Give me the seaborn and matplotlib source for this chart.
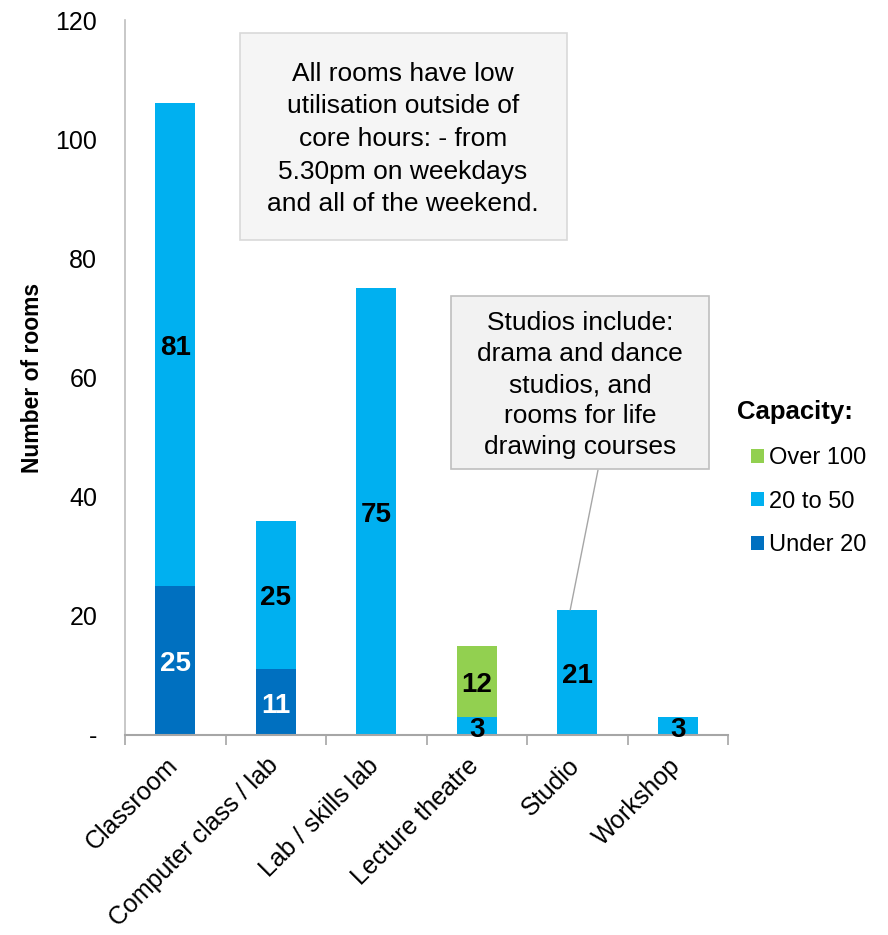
import matplotlib
matplotlib.use("Agg")
import matplotlib.pyplot as plt
from matplotlib.patches import Patch, Rectangle
from matplotlib.transforms import ScaledTranslation
import numpy as np
import pandas as pd
import seaborn as sns

# Room counts by type and capacity band
room_types = ["Classroom", "Computer class / lab", "Lab / skills lab",
              "Lecture theatre", "Studio", "Workshop"]
under_20 = [25, 11, 0, 0, 0, 0]
from_20_to_50 = [81, 25, 75, 3, 21, 3]
over_100 = [0, 0, 0, 12, 0, 0]

y_ticks = [0, 20, 40, 60, 80, 100, 120]
y_tick_labels = ["-", "20", "40", "60", "80", "100", "120"]

colors = {"Over 100": "#92D050", "20 to 50": "#00B0F0", "Under 20": "#0070C0"}

df = pd.DataFrame({
    "room": room_types,
    "Under 20": under_20,
    "20 to 50": from_20_to_50,
    "Over 100": over_100,
})
df["cum_under"] = df["Under 20"]
df["cum_mid"] = df["cum_under"] + df["20 to 50"]
df["cum_top"] = df["cum_mid"] + df["Over 100"]

sns.set_theme(style="white")
plt.rcParams["font.family"] = ["Liberation Sans", "DejaVu Sans"]
for key in ["text.color", "axes.labelcolor", "xtick.color", "ytick.color"]:
    plt.rcParams[key] = "black"

fig = plt.figure(figsize=(8.88, 9.35), dpi=100)
ax = fig.add_axes([125 / 888, 1 - 735 / 935, 603 / 888, 715 / 935])

# Stacked bars drawn as overlapping cumulative totals
for col, key in [("cum_top", "Over 100"), ("cum_mid", "20 to 50"), ("cum_under", "Under 20")]:
    sns.barplot(data=df, x="room", y=col, color=colors[key], width=0.4,
                saturation=1, ax=ax, order=room_types, linewidth=0)

# Segment value labels
for i, row in df.iterrows():
    segs = [("Under 20", 0, row["Under 20"], "white"),
            ("20 to 50", row["cum_under"], row["20 to 50"], "black"),
            ("Over 100", row["cum_mid"], row["Over 100"], "black")]
    for name, base, val, tc in segs:
        if val > 0:
            ax.annotate(f"{val}", xy=(i, base + val / 2), xytext=(0, -2.5),
                        textcoords="offset points", ha="center", va="center",
                        fontsize=20, fontweight="bold", color=tc)

ax.set_ylim(0, 120)
ax.set_xlim(-0.5, len(room_types) - 0.5)
ax.set_yticks(y_ticks)
ax.set_yticklabels(y_tick_labels, fontsize=18)
ax.tick_params(axis="y", length=0, pad=20)

ax.set_xticks(range(len(room_types)))
ax.set_xticklabels(room_types, rotation=45, ha="right", rotation_mode="anchor",
                   fontsize=18)
ax.tick_params(axis="x", which="major", length=0, pad=14)
shift = ScaledTranslation(-10 / 100, 1 / 100, fig.dpi_scale_trans)
for lbl in ax.get_xticklabels():
    lbl.set_transform(lbl.get_transform() + shift)
ax.set_xticks(np.arange(-0.5, len(room_types), 1.0), minor=True)
ax.tick_params(axis="x", which="minor", length=7, width=1.2, color="#a6a6a6",
               direction="out", bottom=True)

ax.set_xlabel("")
ax.set_ylabel("Number of rooms", fontsize=16.5, fontweight="bold")
ax.yaxis.set_label_coords(-0.135, 0.5)

for side in ["top", "right"]:
    ax.spines[side].set_visible(False)
ax.spines["left"].set_color("#bfbfbf")
ax.spines["left"].set_linewidth(1.2)
ax.spines["bottom"].set_color("#a6a6a6")
ax.spines["bottom"].set_linewidth(1.5)

# Legend
fig.text(737 / 888, 1 - 412 / 935, "Capacity:", fontsize=18.5, fontweight="bold",
         ha="left", va="center")
handles = [Patch(facecolor=colors[k], edgecolor="none") for k in ["Over 100", "20 to 50", "Under 20"]]
fig.legend(handles, ["Over 100", "20 to 50", "Under 20"],
           loc="upper left", bbox_to_anchor=(751 / 888, 1 - 447 / 935),
           frameon=False, fontsize=17, handlelength=0.55, handleheight=0.55,
           handletextpad=0.2, labelspacing=0.92, borderaxespad=0, borderpad=0)

# Callouts
fig.patches.append(Rectangle((240 / 888, 1 - 240 / 935), 327 / 888, 207 / 935,
                             transform=fig.transFigure, facecolor="#f5f5f5",
                             edgecolor="#d9d9d9", linewidth=1.2, zorder=1))
fig.text(403 / 888, 1 - 139 / 935,
         "All rooms have low\nutilisation outside of\ncore hours: - from\n5.30pm on weekdays\nand all of the weekend.",
         ha="center", va="center", fontsize=19, linespacing=1.45, zorder=2)

fig.patches.append(Rectangle((451 / 888, 1 - 469 / 935), 258 / 888, 173 / 935,
                             transform=fig.transFigure, facecolor="#f2f2f2",
                             edgecolor="#bfbfbf", linewidth=1.2, zorder=1))
fig.text(580 / 888, 1 - 385 / 935,
         "Studios include:\ndrama and dance\nstudios, and\nrooms for life\ndrawing courses",
         ha="center", va="center", fontsize=19, linespacing=1.36, zorder=2)

studio_idx = room_types.index("Studio")
ax.annotate("", xy=(studio_idx - 0.07, df.loc[studio_idx, "cum_top"]),
            xytext=(598 / 888, 1 - 470 / 935), textcoords="figure fraction",
            arrowprops=dict(arrowstyle="-", color="#a6a6a6", lw=1, shrinkA=0, shrinkB=0))

fig.savefig("out.png", dpi=100)
